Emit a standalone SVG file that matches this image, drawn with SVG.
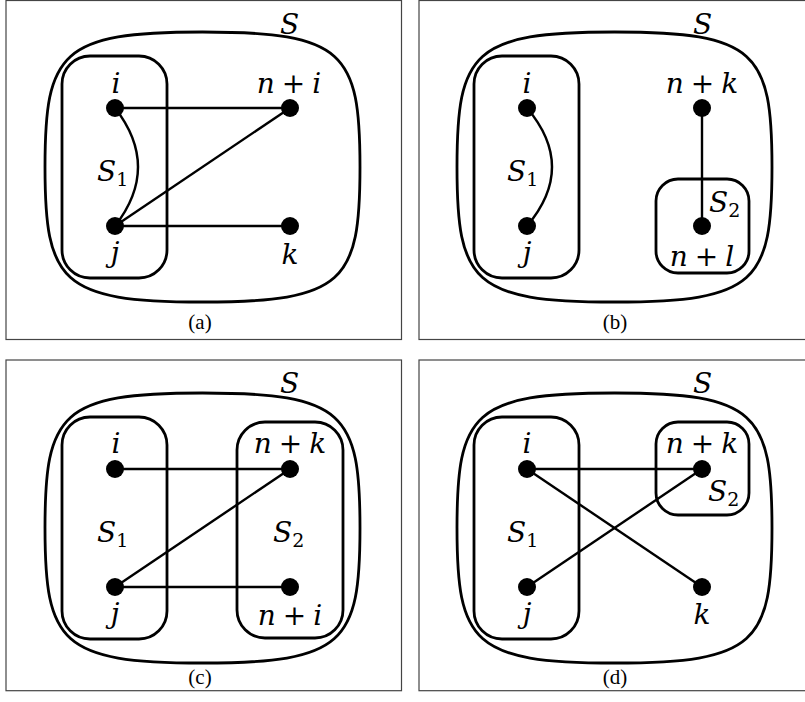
<svg xmlns="http://www.w3.org/2000/svg" width="805" height="702" viewBox="0 0 805 702">
<style>
.frame{fill:none;stroke:#444;stroke-width:1.2}
.set{fill:none;stroke:#000;stroke-width:2.8}
.edge{fill:none;stroke:#000;stroke-width:2.4}
.node{fill:#000}
.m{font-family:"DejaVu Serif","Liberation Serif",serif;font-style:italic;font-size:28px;fill:#000}
.up{font-style:normal}
.sub{font-style:normal;font-size:19px}
.cap{font-family:"Liberation Serif",serif;font-size:21px;fill:#000;text-anchor:middle}
.c{text-anchor:middle}
</style>
<rect width="805" height="702" fill="#fff"/>
<g id="frames">
<rect class="frame" x="6" y="0.5" width="395.5" height="339"/>
<rect class="frame" x="419" y="0.5" width="390" height="339"/>
<rect class="frame" x="6" y="360" width="395.5" height="330.7"/>
<rect class="frame" x="419" y="360" width="390" height="330.7"/>
</g>
<g id="sets">
<path id="Sa" class="set" d="M202.5,32 C60.75,32 45,52.25 45,167 C45,281.75 60.75,302 202.5,302 C344.25,302 360,281.75 360,167 C360,52.25 344.25,32 202.5,32 Z"/>
<path id="Sb" class="set" d="M614.5,32 C472.75,32 457,52.25 457,167 C457,281.75 472.75,302 614.5,302 C756.25,302 772,281.75 772,167 C772,52.25 756.25,32 614.5,32 Z"/>
<path id="Sc" class="set" d="M202.5,393 C60.75,393 45,413.25 45,528 C45,642.75 60.75,663 202.5,663 C344.25,663 360,642.75 360,528 C360,413.25 344.25,393 202.5,393 Z"/>
<path id="Sd" class="set" d="M614.5,393 C472.75,393 457,413.25 457,528 C457,642.75 472.75,663 614.5,663 C756.25,663 772,642.75 772,528 C772,413.25 756.25,393 614.5,393 Z"/>
<rect id="S1a" class="set" x="62" y="56" width="105" height="222" rx="28"/>
<rect id="S1b" class="set" x="474" y="56" width="105" height="222" rx="28"/>
<rect id="S1c" class="set" x="62" y="417" width="105" height="222" rx="28"/>
<rect id="S1d" class="set" x="474" y="417" width="105" height="222" rx="28"/>
<rect id="S2b" class="set" x="656" y="179" width="93" height="94" rx="22"/>
<rect id="S2c" class="set" x="237" y="422" width="106" height="216" rx="28"/>
<rect id="S2d" class="set" x="656" y="422" width="93" height="93" rx="22"/>
</g>
<g id="connectors">
<line class="edge" x1="115" y1="108" x2="290" y2="108"/>
<line class="edge" x1="115" y1="226" x2="290" y2="226"/>
<line class="edge" x1="115" y1="226" x2="290" y2="108"/>
<path class="edge" d="M115,108 Q161,167 115,226"/>
<path class="edge" d="M527,108 Q577,167 527,226"/>
<line class="edge" x1="702" y1="108" x2="702" y2="226"/>
<line class="edge" x1="115" y1="469" x2="290" y2="469"/>
<line class="edge" x1="115" y1="587" x2="290" y2="587"/>
<line class="edge" x1="115" y1="587" x2="290" y2="469"/>
<line class="edge" x1="527" y1="469" x2="702" y2="469"/>
<line class="edge" x1="527" y1="469" x2="702" y2="587"/>
<line class="edge" x1="527" y1="587" x2="702" y2="469"/>
</g>
<g id="nodes">
<g id="a-i"><circle class="node" cx="115" cy="108" r="9"/><text class="m c" x="116" y="93">i</text></g>
<g id="a-ni"><circle class="node" cx="290" cy="108" r="9"/><text class="m c" x="289" y="93">n<tspan class="up" dx="7">+</tspan><tspan dx="7">i</tspan></text></g>
<g id="a-j"><circle class="node" cx="115" cy="226" r="9"/><text class="m c" x="115" y="262">j</text></g>
<g id="a-k"><circle class="node" cx="290" cy="226" r="9"/><text class="m c" x="290" y="264">k</text></g>
<g id="b-i"><circle class="node" cx="527" cy="108" r="9"/><text class="m c" x="527" y="93">i</text></g>
<g id="b-nk"><circle class="node" cx="702" cy="108" r="9"/><text class="m c" x="702" y="93">n<tspan class="up" dx="7">+</tspan><tspan dx="7">k</tspan></text></g>
<g id="b-j"><circle class="node" cx="527" cy="226" r="9"/><text class="m c" x="527" y="262">j</text></g>
<g id="b-nl"><circle class="node" cx="702" cy="226" r="9"/><text class="m c" x="702" y="266">n<tspan class="up" dx="7">+</tspan><tspan dx="7">l</tspan></text></g>
<g id="c-i"><circle class="node" cx="115" cy="469" r="9"/><text class="m c" x="116" y="453">i</text></g>
<g id="c-nk"><circle class="node" cx="290" cy="469" r="9"/><text class="m c" x="290" y="453">n<tspan class="up" dx="7">+</tspan><tspan dx="7">k</tspan></text></g>
<g id="c-j"><circle class="node" cx="115" cy="587" r="9"/><text class="m c" x="115" y="623">j</text></g>
<g id="c-ni"><circle class="node" cx="290" cy="587" r="9"/><text class="m c" x="290" y="625">n<tspan class="up" dx="7">+</tspan><tspan dx="7">i</tspan></text></g>
<g id="d-i"><circle class="node" cx="527" cy="469" r="9"/><text class="m c" x="527" y="453">i</text></g>
<g id="d-nk"><circle class="node" cx="702" cy="469" r="9"/><text class="m c" x="702" y="453">n<tspan class="up" dx="7">+</tspan><tspan dx="7">k</tspan></text></g>
<g id="d-j"><circle class="node" cx="527" cy="587" r="9"/><text class="m c" x="527" y="623">j</text></g>
<g id="d-k"><circle class="node" cx="702" cy="587" r="9"/><text class="m c" x="702" y="624">k</text></g>
</g>
<g id="labels">
<text class="m" x="280" y="34">S</text>
<text class="m" x="693" y="34">S</text>
<text class="m" x="280" y="393">S</text>
<text class="m" x="693" y="393">S</text>
<text class="m" x="97" y="181">S<tspan class="sub" dy="5">1</tspan></text>
<text class="m" x="507" y="181">S<tspan class="sub" dy="5">1</tspan></text>
<text class="m" x="97" y="542">S<tspan class="sub" dy="5">1</tspan></text>
<text class="m" x="507" y="542">S<tspan class="sub" dy="5">1</tspan></text>
<text class="m" x="709" y="212">S<tspan class="sub" dy="5">2</tspan></text>
<text class="m" x="273" y="542">S<tspan class="sub" dy="5">2</tspan></text>
<text class="m" x="708" y="501">S<tspan class="sub" dy="5">2</tspan></text>
<text class="cap" x="200" y="329">(a)</text>
<text class="cap" x="615" y="329">(b)</text>
<text class="cap" x="200" y="684">(c)</text>
<text class="cap" x="615" y="684">(d)</text>
</g>
</svg>
